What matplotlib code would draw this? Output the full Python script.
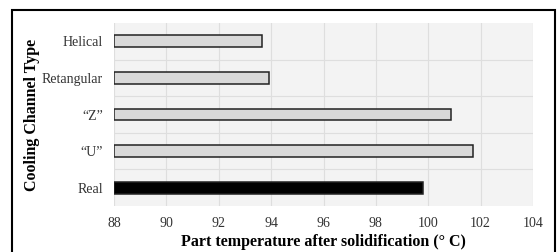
import matplotlib
matplotlib.use('Agg')
import matplotlib.pyplot as plt
from matplotlib.patches import Rectangle

plt.rcParams['font.family'] = ['Liberation Serif', 'DejaVu Serif']

channels = ['Real', '\u201cU\u201d', '\u201cZ\u201d', 'Retangular', 'Helical']
temps = [99.8, 101.7, 100.86, 93.9, 93.65]
fill = ['black', '#d9d9d9', '#d9d9d9', '#d9d9d9', '#d9d9d9']
xticks = [88, 90, 92, 94, 96, 98, 100, 102, 104]

fig = plt.figure(figsize=(5.6, 2.52), dpi=100)
ax = fig.add_axes([0.2036, 0.1825, 0.7482, 0.7262])
ax.set_facecolor('#f3f3f3')

pos = list(range(len(channels)))
ax.barh(pos, [t - 88 for t in temps], left=88, height=0.32,
        color=fill, edgecolor='#222222', linewidth=1.1, zorder=3)

ax.set_xlim(88, 104)
ax.set_ylim(-0.5, len(channels) - 0.5)
ax.set_xticks(xticks)
ax.set_xticklabels([str(v) for v in xticks])
ax.set_yticks(pos)
ax.set_yticklabels(channels)
ax.set_yticks([p + 0.5 for p in pos[:-1]], minor=True)
ax.grid(axis='x', which='major', color='#dedede', linewidth=0.8, zorder=0)
ax.grid(axis='y', which='minor', color='#dedede', linewidth=0.8, zorder=0)
ax.tick_params(axis='both', which='both', length=0, labelsize=10, labelcolor='#333333')
ax.tick_params(axis='y', pad=8)
ax.tick_params(axis='x', pad=8)
for s in ax.spines.values():
    s.set_visible(False)

ax.set_xlabel('Part temperature after solidification (\u00b0 C)', fontsize=11.5, fontweight='bold', labelpad=3)
ax.set_ylabel('Cooling Channel Type', fontsize=11.5, fontweight='bold', labelpad=1)

# outer frame, open at the bottom edge
fig.patches.append(Rectangle((12 / 560, -0.1), 543 / 560, 1.1 - 10 / 252,
                             transform=fig.transFigure, fill=False,
                             edgecolor='black', linewidth=1.5))

fig.savefig('out.png', dpi=100)
